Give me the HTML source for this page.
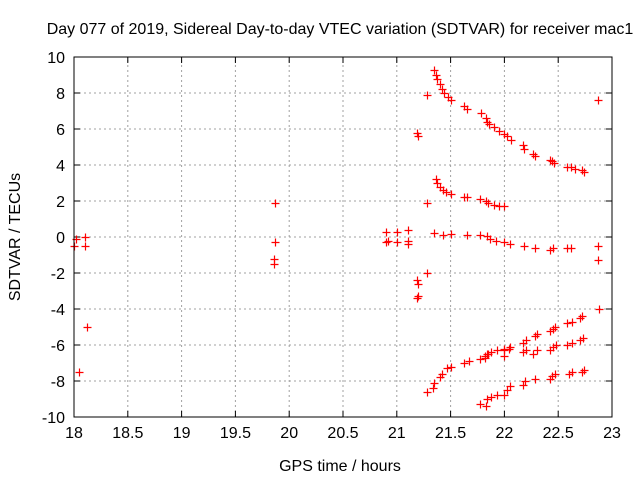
<!DOCTYPE html>
<html><head><meta charset="utf-8"><style>
body{margin:0;background:#fff}
svg{display:block;font-family:"Liberation Sans",Arial,sans-serif;font-size:16px}
</style></head><body>
<svg id="chart" width="640" height="480">
<text x="340" y="34" text-anchor="middle">Day 077 of 2019, Sidereal Day-to-day VTEC variation (SDTVAR) for receiver mac1</text>
<text x="340" y="471" text-anchor="middle">GPS time / hours</text>
<text x="0" y="0" text-anchor="middle" transform="translate(20,237) rotate(-90)">SDTVAR / TECUs</text>
<g id="grid"></g><g id="ticks"></g><g id="marks"></g>
<rect x="74" y="57" width="538" height="360" fill="none" stroke="#000"/>
</svg>
<script>
const xTicks=[18,18.5,19,19.5,20,20.5,21,21.5,22,22.5,23];
const xTickLabels=["18","18.5","19","19.5","20","20.5","21","21.5","22","22.5","23"];
const yTicks=[-10,-8,-6,-4,-2,0,2,4,6,8,10];
const yTickLabels=["-10","-8","-6","-4","-2","0","2","4","6","8","10"];
const timesHours=[21.35,21.36,21.37,21.4,21.42,21.44,21.48,21.5,21.62,21.65,21.78,21.83,21.84,21.86,21.9,21.95,22.0,22.02,22.06,22.17,22.18,22.27,22.28,22.42,22.44,22.46,22.58,22.62,22.66,22.72,22.74,
21.28,22.87,21.19,21.2,19.87,21.28,
21.36,21.37,21.4,21.43,21.46,21.5,21.62,21.65,21.77,21.83,21.85,21.9,21.95,22.0,
18.0,18.1,18.1,18.02,19.87,19.86,19.86,20.9,20.9,20.92,21.0,21.0,21.1,21.1,21.1,21.35,21.43,21.5,21.65,21.77,21.84,21.87,21.92,22.0,22.05,22.18,22.28,22.42,22.45,22.58,22.62,22.87,22.87,
21.19,21.2,21.2,21.19,21.28,18.12,18.05,22.88,
21.28,21.34,21.35,21.4,21.42,21.47,21.5,21.62,21.67,21.77,21.82,21.84,21.88,21.93,22.0,22.05,22.17,22.2,22.28,22.3,22.42,22.45,22.47,22.58,22.63,22.7,22.72,
21.82,21.85,22.0,22.0,22.04,22.17,22.2,22.27,22.3,22.42,22.45,22.48,22.58,22.63,22.7,22.73,
21.77,21.83,21.84,21.88,21.93,22.0,22.02,22.05,22.17,22.19,22.28,22.42,22.44,22.47,22.6,22.63,22.72,22.74];
const sdtvarValues=[9.3,9.0,8.8,8.5,8.2,8.0,7.8,7.6,7.3,7.1,6.9,6.6,6.4,6.3,6.1,5.9,5.7,5.6,5.4,5.1,4.9,4.6,4.5,4.3,4.2,4.1,3.9,3.9,3.8,3.7,3.6,
7.9,7.6,5.8,5.6,1.9,1.9,
3.2,3.0,2.8,2.6,2.5,2.4,2.2,2.2,2.1,2.0,1.9,1.8,1.7,1.7,
-0.5,-0.5,0,-0.1,-0.3,-1.2,-1.5,0.3,-0.3,-0.2,-0.3,0.3,0.4,-0.2,-0.4,0.2,0.1,0.15,0.1,0.1,0.05,-0.1,-0.2,-0.3,-0.4,-0.5,-0.6,-0.7,-0.6,-0.6,-0.6,-0.5,-1.3,
-2.4,-2.6,-3.3,-3.4,-2.0,-5.0,-7.5,-4.0,
-8.6,-8.4,-8.1,-7.8,-7.6,-7.3,-7.2,-7.0,-6.9,-6.8,-6.6,-6.5,-6.4,-6.3,-6.2,-6.1,-5.9,-5.7,-5.5,-5.4,-5.2,-5.1,-5.0,-4.8,-4.7,-4.5,-4.4,
-6.7,-6.5,-6.3,-6.6,-6.2,-6.4,-6.3,-6.5,-6.3,-6.3,-6.1,-6.0,-6.0,-5.9,-5.7,-5.6,
-9.3,-9.4,-9.0,-8.9,-8.8,-8.8,-8.5,-8.3,-8.2,-8.0,-7.9,-7.9,-7.7,-7.6,-7.6,-7.5,-7.5,-7.4];
const NS="http://www.w3.org/2000/svg";
const X0=74,X1=612,Y0=417,Y1=57;
function sx(v){return X0+(v-18)/5*(X1-X0);}
function sy(v){return Y0-(v+10)/20*(Y0-Y1);}
function mk(tag,a,parent){const e=document.createElementNS(NS,tag);for(const k in a)e.setAttribute(k,a[k]);parent.appendChild(e);return e;}
const grid=document.getElementById('grid'),ticks=document.getElementById('ticks'),marks=document.getElementById('marks');
xTicks.forEach((t,i)=>{const x=sx(t);
 if(i>0&&i<xTicks.length-1){const g=mk('line',{x1:x,x2:x,y1:Y0,y2:Y1,stroke:'#a0a0a0','stroke-dasharray':'2,3'},grid);
 
 }
 mk('line',{x1:x,x2:x,y1:Y0,y2:Y0-6,stroke:'#000'},ticks);
 mk('line',{x1:x,x2:x,y1:Y1,y2:Y1+6,stroke:'#000'},ticks);
 const l=mk('text',{x:x,y:Y0+21,'text-anchor':'middle'},ticks);l.textContent=xTickLabels[i];
 
 });
yTicks.forEach((t,i)=>{const y=sy(t);
 if(i>0&&i<yTicks.length-1){const g=mk('line',{x1:X0,x2:X1,y1:y,y2:y,stroke:'#a0a0a0','stroke-dasharray':'2,3'},grid);
 
 }
 mk('line',{x1:X0,x2:X0+6,y1:y,y2:y,stroke:'#000'},ticks);
 mk('line',{x1:X1,x2:X1-6,y1:y,y2:y,stroke:'#000'},ticks);
 const l=mk('text',{x:X0-9,y:y+6,'text-anchor':'end'},ticks);l.textContent=yTickLabels[i];
 
 });
timesHours.forEach((t,i)=>{const x=Math.round(sx(t))+0.5,y=Math.round(sy(sdtvarValues[i]))+0.5;
 const p=mk('path',{d:`M${x-4},${y}H${x+4}M${x},${y-4}V${y+4}`,stroke:'#ff0000','stroke-width':1.2,fill:'none'},marks);
 
 });
</script>
</body></html>
